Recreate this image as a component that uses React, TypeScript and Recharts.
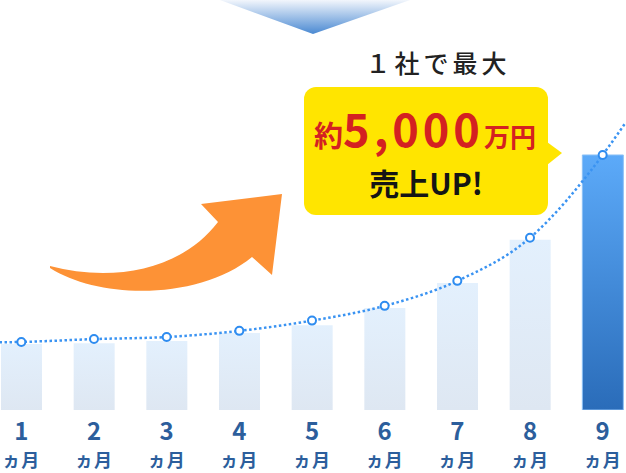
import { ComposedChart, Bar, Line, XAxis, YAxis, Cell } from "recharts";

// months on the axis
const months = ["1", "2", "3", "4", "5", "6", "7", "8", "9"];
// bar heights (relative sales index, 0-100 scale)
const barValues = [16.1, 16.3, 16.8, 18.8, 20.7, 24.9, 31.0, 41.5, 62.2];
// dotted trend curve, runs a little past the first and last month
const trendX = [0.7, 1, 2, 3, 4, 5, 6, 7, 8, 9, 9.32];
const trendValues = [16.5, 16.6, 17.3, 17.8, 19.3, 21.8, 25.4, 31.5, 42.0, 62.2, 70.2];

const FONT = "'Noto Sans CJK JP', 'Noto Sans', sans-serif";
const LABEL_BLUE = "#2C5E9C";

const barData = months.map((m, i) => ({ month: m, value: barValues[i] }));
const trendData = trendX.map((x, i) => ({ x, v: trendValues[i] }));

function MonthTick({ x, y, payload }: any) {
  return (
    <g transform={`translate(${x},${y})`}>
      <text
        y={30}
        textAnchor="middle"
        fontFamily={FONT}
        fontWeight={700}
        fontSize={24}
        fill={LABEL_BLUE}
      >
        {payload.value}
      </text>
      <text
        y={57}
        textAnchor="middle"
        fontFamily={FONT}
        fontWeight={700}
        fontSize={18}
        letterSpacing={1}
        fill={LABEL_BLUE}
      >
        ヵ月
      </text>
    </g>
  );
}

function TrendDot({ cx, cy, payload }: any) {
  if (!Number.isInteger(payload.x)) return <g />;
  return <circle cx={cx} cy={cy} r={4} fill="#fff" stroke="#2E8CF0" strokeWidth={2} />;
}

function Decorations() {
  return (
    <svg
      width={626}
      height={473}
      style={{ position: "absolute", left: 0, top: 0, pointerEvents: "none" }}
    >
      <defs>
        <linearGradient id="chevron" x1="0" y1="0" x2="0" y2="1">
          <stop offset="0%" stopColor="#F2F6FC" />
          <stop offset="100%" stopColor="#4A89D2" />
        </linearGradient>
      </defs>
      <polygon points="220,0 410,0 313,34" fill="url(#chevron)" />

      <path
        d="M50,266 C110,282 180,272 218,222 L201,204 L282,194 L272,275 L252,257 C200,300 100,300 50,268 Z"
        fill="#FD9236"
      />

      <text
        x={438}
        y={73}
        textAnchor="middle"
        fontFamily={FONT}
        fontWeight={500}
        fontSize={25}
        letterSpacing={4}
        fill="#222"
      >
        １社で最大
      </text>

      <rect x={304} y={87} width={244} height={128} rx={12} fill="#FFE500" />
      <polygon points="547,142 562,153 547,165" fill="#FFE500" />

      <text x={425} y={147} textAnchor="middle" fontFamily={FONT} fontWeight={700} fill="#D42121">
        <tspan fontSize={29}>約</tspan>
        <tspan fontSize={45} letterSpacing={4}>5,000</tspan>
        <tspan fontSize={26}>万円</tspan>
      </text>
      <text
        x={426}
        y={195}
        textAnchor="middle"
        fontFamily={FONT}
        fontWeight={700}
        fontSize={30}
        fill="#151515"
      >
        売上UP!
      </text>
    </svg>
  );
}

export default function App() {
  return (
    <div
      style={{
        position: "absolute",
        left: 0,
        top: 0,
        width: 626,
        height: 473,
        overflow: "hidden",
        background: "#fff",
      }}
    >
      <div style={{ position: "absolute", left: -15, top: 0 }}>
        <ComposedChart
          width={654}
          height={473}
          data={barData}
          margin={{ top: 0, right: 0, bottom: 0, left: 0 }}
        >
          <defs>
            <linearGradient id="barLight" x1="0" y1="0" x2="0" y2="1">
              <stop offset="0%" stopColor="#E3F0FD" />
              <stop offset="100%" stopColor="#DEE7F2" />
            </linearGradient>
            <linearGradient id="barDark" x1="0" y1="0" x2="0" y2="1">
              <stop offset="0%" stopColor="#5CAAF9" />
              <stop offset="100%" stopColor="#2A6CB9" />
            </linearGradient>
          </defs>
          <XAxis
            dataKey="month"
            height={63}
            axisLine={false}
            tickLine={false}
            tickSize={0}
            tickMargin={0}
            interval={0}
            tick={<MonthTick />}
          />
          <XAxis
            xAxisId="trend"
            dataKey="x"
            type="number"
            domain={[0.5, 9.5]}
            allowDataOverflow
            hide
          />
          <YAxis hide domain={[0, 100]} allowDataOverflow />
          <Bar dataKey="value" barSize={41} isAnimationActive={false}>
            {barData.map((d, i) => (
              <Cell
                key={`bar-${d.month}`}
                fill={i === barData.length - 1 ? "url(#barDark)" : "url(#barLight)"}
                stroke={i === barData.length - 1 ? "#8CC1F6" : "none"}
                strokeWidth={1}
              />
            ))}
          </Bar>
          <Line
            xAxisId="trend"
            data={trendData}
            dataKey="v"
            type="monotone"
            stroke="#3A93F2"
            strokeWidth={2.5}
            strokeDasharray="2.5 2.5"
            dot={<TrendDot />}
            activeDot={false}
            isAnimationActive={false}
          />
        </ComposedChart>
      </div>
      <Decorations />
    </div>
  );
}
